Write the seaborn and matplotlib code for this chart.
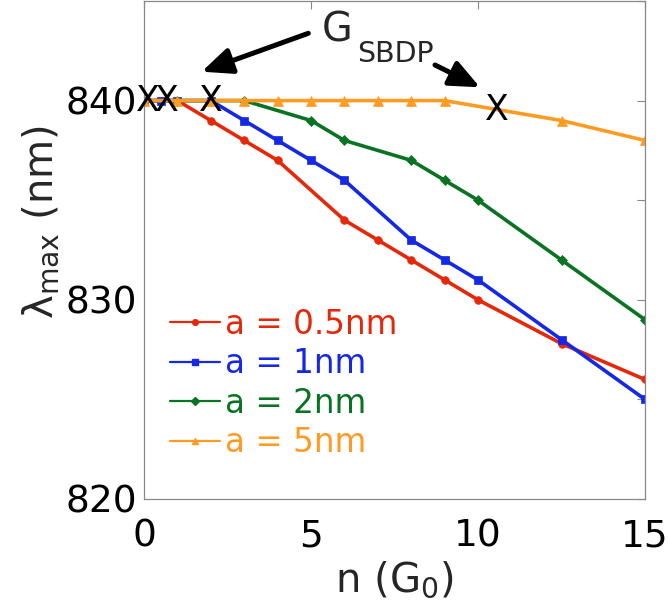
import matplotlib
matplotlib.use("Agg")
import matplotlib.pyplot as plt
import seaborn as sns
import pandas as pd

# Peak wavelength vs. number of conductance quanta for several gap sizes
n_05 = [0, 0.5, 1, 2, 3, 4, 6, 7, 8, 9, 10, 12.5, 15]
lam_05 = [840, 840, 840, 839, 838, 837, 834, 833, 832, 831, 830, 827.8, 826]

n_1 = [0, 0.5, 1, 2, 3, 4, 5, 6, 8, 9, 10, 12.5, 15]
lam_1 = [840, 840, 840, 840, 839, 838, 837, 836, 833, 832, 831, 828, 825]

n_2 = [0, 1, 2, 3, 5, 6, 8, 9, 10, 12.5, 15]
lam_2 = [840, 840, 840, 840, 839, 838, 837, 836, 835, 832, 829]

n_5 = [0, 1, 2, 3, 4, 5, 6, 7, 8, 9, 12.5, 15]
lam_5 = [840, 840, 840, 840, 840, 840, 840, 840, 840, 840, 839, 838]

labels = ["a = 0.5nm", "a = 1nm", "a = 2nm", "a = 5nm"]

# G_SBDP crossing points
gsbdp_n = [0.13, 0.68, 1.99, 10.57]
gsbdp_lam = [840, 840, 840, 839.53]

x_ticks = [0, 5, 10, 15]
y_ticks = [820, 830, 840]

sns.set_theme(style="white")
plt.rcParams["font.family"] = ["DejaVu Sans"]
plt.rcParams["mathtext.fontset"] = "dejavusans"
plt.rcParams["mathtext.default"] = "regular"

fig = plt.figure(figsize=(6.68, 6.15), dpi=100)
ax = fig.add_axes([144 / 668, 1 - 499 / 615, 501 / 668, 498 / 615])

series = [
    (n_05, lam_05, "#E6280A", "o", 5.5),
    (n_1, lam_1, "#1428E6", "s", 6.0),
    (n_2, lam_2, "#0A7323", "D", 5.5),
    (n_5, lam_5, "#FF9B23", "^", 6.5),
]

handles = []
for (xs, ys, col, mk, ms), lab in zip(series, labels):
    df = pd.DataFrame({"n": xs, "lam": ys})
    sns.lineplot(data=df, x="n", y="lam", ax=ax, color=col, marker=mk,
                 markersize=ms, markeredgecolor=col, markeredgewidth=0.5,
                 linewidth=2.6, sort=False, estimator=None, label=lab,
                 legend=False)
    handles.append(plt.Line2D([], [], color=col, marker=mk, markersize=ms * 0.75,
                              markeredgecolor=col, linewidth=1.6))

for xv, yv in zip(gsbdp_n, gsbdp_lam):
    ax.text(xv, yv, "X", fontsize=25, ha="center", va="center", color="black",
            zorder=10, clip_on=False)

ax.set_xlim(0, 15)
ax.set_ylim(820, 845)
ax.set_xticks(x_ticks)
ax.set_yticks(y_ticks)
ax.set_yticks([825, 835, 845], minor=True)
ax.tick_params(axis="both", which="both", direction="in", length=6, width=0.8,
               color="#888888", top=True, right=True, labelsize=27,
               labelcolor="black")
ax.tick_params(axis="x", which="both", pad=14)
ax.tick_params(axis="y", which="both", pad=5)
for sp in ax.spines.values():
    sp.set_color("#888888")
    sp.set_linewidth(0.9)

ax.set_xlabel("n (G$_0$)", fontsize=29, labelpad=4)
ax.set_ylabel("λ$_{max}$ (nm)", fontsize=29)
ax.yaxis.set_label_coords(-0.165, 0.556)

leg = ax.legend(handles, labels, loc="center left", bbox_to_anchor=(0.052, 0.232),
                frameon=False, fontsize=23.5, labelcolor="linecolor",
                handlelength=1.53, handletextpad=0.15, labelspacing=0.2,
                borderpad=0, borderaxespad=0)

# Label with arrows
fig.text(322 / 668, 1 - 42 / 615, "G", fontsize=28.5, ha="left", va="baseline")
fig.text(357 / 668, 1 - 62 / 615, "SBDP", fontsize=20.5, ha="left", va="baseline")
arrow_kw = dict(arrowstyle="-|>,head_length=0.55,head_width=0.24", color="black",
                lw=3.6, mutation_scale=33, shrinkA=0, shrinkB=0)
ax.annotate("", xy=(201.7, 615 - 71.7), xytext=(308.3, 615 - 33.3),
            xycoords="figure pixels", textcoords="figure pixels", arrowprops=arrow_kw)
ax.annotate("", xy=(480, 615 - 87.3), xytext=(435, 615 - 65),
            xycoords="figure pixels", textcoords="figure pixels", arrowprops=arrow_kw)

fig.savefig("out.png", dpi=100)
